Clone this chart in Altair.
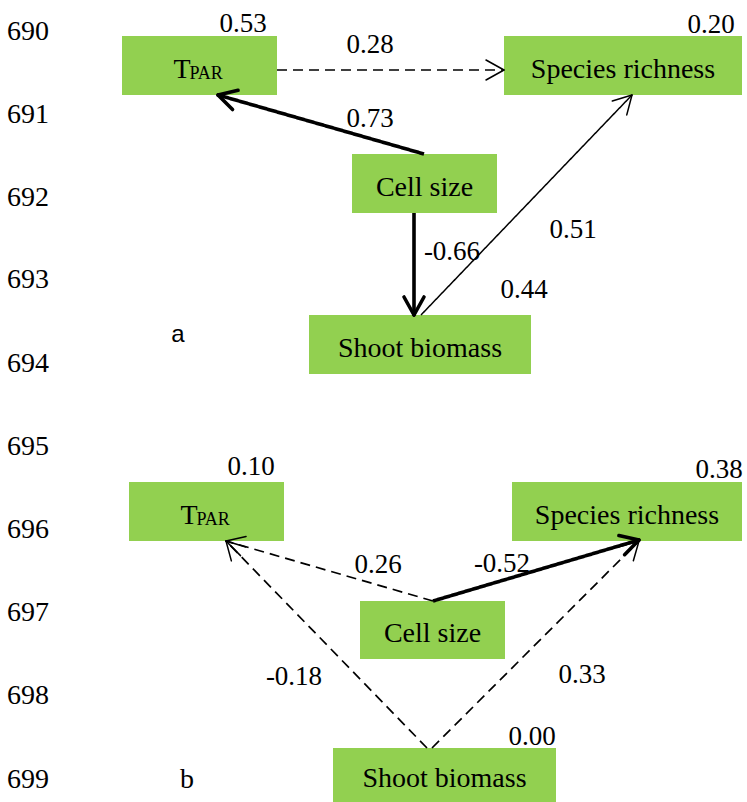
import math

import altair as alt
import pandas as pd

W, H = 747, 802
GREEN = "#92D050"
SERIF = "Liberation Serif"
SANS = "Liberation Sans"

# ---- manuscript line numbers in the left margin ----
line_no = ["690", "691", "692", "693", "694", "695", "696", "697", "698", "699"]
line_no_y = [40, 123, 206, 288, 372, 455, 538, 621, 704, 788]

# ---- panel letters ----
panel_txt = ["a", "b"]
panel_x = [178, 187]
panel_y = [342, 788]
panel_font = [SANS, SERIF]
panel_size = [24, 28]

# ---- variable boxes (panel a first, then panel b) ----
node_name = ["T", "Species richness", "Cell size", "Shoot biomass",
             "T", "Species richness", "Cell size", "Shoot biomass"]
node_sub = ["PAR", "", "", "", "PAR", "", "", ""]
box_x0 = [122, 504, 352, 309, 129, 512, 360, 333]
box_x1 = [277, 742, 497, 531, 284, 742, 505, 556]
box_y0 = [36, 36, 154, 315, 482, 482, 601, 748]
box_y1 = [95, 95, 213, 374, 541, 541, 659, 802]

# ---- explained variance (R²) of the endogenous variables ----
r2_text = ["0.53", "0.20", "0.44", "0.10", "0.38", "0.00"]
r2_x = [243, 711, 524, 251, 719, 532]
r2_y = [32, 33, 298, 475, 478, 745]

# ---- paths: tail -> head, style, standardized coefficient ----
edge_x0 = [424, 277, 414, 421, 433, 433, 427, 432]
edge_y0 = [154, 70, 213, 315, 601, 601, 748, 748]
edge_x1 = [218, 504, 414, 632, 226, 639, 226, 639]
edge_y1 = [95, 70, 315, 95, 541, 540, 541, 541]
edge_style = ["thick", "dashed", "thick", "thin",
              "dashed", "thick", "dashed", "dashed"]
coef_text = ["0.73", "0.28", "-0.66", "0.51", "0.26", "-0.52", "-0.18", "0.33"]
coef_x = [370, 370, 452, 573, 378, 502, 294, 582]
coef_y = [127, 53, 260, 238, 573, 572, 685, 683]

HEAD_LEN, HEAD_HALF = 18, 10
STYLE_WIDTH = {"thick": 3.6, "thin": 1.5, "dashed": 1.7}

xs = alt.Scale(domain=[0, W], nice=False, zero=False)
ys = alt.Scale(domain=[H, 0], nice=False, zero=False)


def X(field):
    return alt.X(f"{field}:Q", scale=xs, axis=None)


def Y(field):
    return alt.Y(f"{field}:Q", scale=ys, axis=None)


# tables
boxes = pd.DataFrame({
    "name": node_name, "sub": node_sub,
    "x0": box_x0, "x1": box_x1, "y0": box_y0, "y1": box_y1,
})
boxes["cx"] = (boxes.x0 + boxes.x1) / 2
boxes["ty"] = (boxes.y0 + boxes.y1) / 2 + 12

edges = pd.DataFrame({
    "x0": edge_x0, "y0": edge_y0, "x1": edge_x1, "y1": edge_y1,
    "style": edge_style,
})

# arrowhead barbs derived from each path's direction at its head
barb_rows = []
for r in edges.itertuples():
    dx, dy = r.x0 - r.x1, r.y0 - r.y1
    n = math.hypot(dx, dy)
    ux, uy = dx / n, dy / n
    px, py = -uy, ux
    for s in (1, -1):
        barb_rows.append({
            "x0": r.x1 + HEAD_LEN * ux + s * HEAD_HALF * px,
            "y0": r.y1 + HEAD_LEN * uy + s * HEAD_HALF * py,
            "x1": r.x1, "y1": r.y1, "style": r.style,
        })
barbs = pd.DataFrame(barb_rows)

r2 = pd.DataFrame({"t": r2_text, "x": r2_x, "y": r2_y})
coefs = pd.DataFrame({"t": coef_text, "x": coef_x, "y": coef_y})
lines = pd.DataFrame({"t": line_no, "y": line_no_y})
panels = pd.DataFrame({"t": panel_txt, "x": panel_x, "y": panel_y})

layers = []

# boxes
layers.append(
    alt.Chart(boxes).mark_rect(color=GREEN).encode(
        x=X("x0"), x2="x1", y=Y("y0"), y2="y1")
)

# path lines by style
for style, width in STYLE_WIDTH.items():
    dash = [10, 6] if style == "dashed" else [1, 0]
    layers.append(
        alt.Chart(edges).transform_filter(alt.datum.style == style)
        .mark_rule(color="black", strokeWidth=width, strokeDash=dash,
                   strokeCap="butt")
        .encode(x=X("x0"), y=Y("y0"), x2="x1", y2="y1")
    )
    head_w = 3.6 if style == "thick" else 1.5
    layers.append(
        alt.Chart(barbs).transform_filter(alt.datum.style == style)
        .mark_rule(color="black", strokeWidth=head_w, strokeCap="round")
        .encode(x=X("x0"), y=Y("y0"), x2="x1", y2="y1")
    )

# box labels (plain names)
plain = boxes[boxes["sub"] == ""]
layers.append(
    alt.Chart(plain).mark_text(font=SERIF, fontSize=28, color="black",
                               align="center", baseline="alphabetic")
    .encode(x=X("cx"), y=Y("ty"), text="name:N")
)
# T with the PAR subscript
sub = boxes[boxes["sub"] != ""]
layers.append(
    alt.Chart(sub).mark_text(font=SERIF, fontSize=28, color="black",
                             align="right", baseline="alphabetic", dx=-9)
    .encode(x=X("cx"), y=Y("ty"), text="name:N")
)
layers.append(
    alt.Chart(sub).mark_text(font=SERIF, fontSize=18, color="black",
                             align="left", baseline="alphabetic", dx=-10, dy=1)
    .encode(x=X("cx"), y=Y("ty"), text="sub:N")
)

# R² and coefficients
for df in (r2, coefs):
    layers.append(
        alt.Chart(df).mark_text(font=SERIF, fontSize=27, color="black",
                                align="center", baseline="alphabetic")
        .encode(x=X("x"), y=Y("y"), text="t:N")
    )

# line numbers
layers.append(
    alt.Chart(lines).mark_text(font=SERIF, fontSize=28, color="black",
                               align="left", baseline="alphabetic")
    .encode(x=alt.value(7), y=Y("y"), text="t:N")
)

# panel letters
for i in range(len(panel_txt)):
    layers.append(
        alt.Chart(panels.iloc[[i]]).mark_text(
            font=panel_font[i], fontSize=panel_size[i], color="black",
            align="center", baseline="alphabetic")
        .encode(x=X("x"), y=Y("y"), text="t:N")
    )

chart = alt.layer(*layers).properties(
    width=W, height=H, padding=0, autosize=alt.AutoSizeParams(type="none")
).configure_view(stroke=None).configure_text(font=SERIF)

chart.save("out.html", embed_options={"renderer": "svg", "actions": False})
